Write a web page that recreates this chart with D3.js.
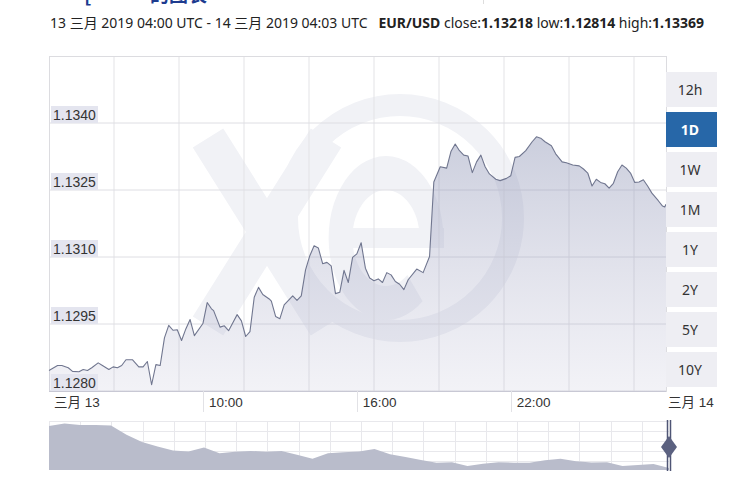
<!DOCTYPE html>
<html>
<head>
<meta charset="utf-8">
<script src="https://cdn.jsdelivr.net/npm/d3@7"></script>
<style>
body { margin: 0; background: #fff; }
svg { display: block; }
</style>
</head>
<body>
<div class="chart"></div>
<script>
var width = 732;
var height = 487;
var plot = {left: 49, right: 666, top: 56, bottom: 391};

// EUR/USD, 13 三月 2019 04:00 UTC -> 14 三月 2019 04:03 UTC
var times = ['04:00','04:20','04:30','04:45','04:55','05:10','05:20','05:30','05:40','05:55',
  '06:05','06:20','06:30','06:40','06:50','07:00','07:15','07:30','07:40','07:50',
  '08:00','08:10','08:20','08:30','08:40','08:50','09:00','09:10','09:20','09:30',
  '09:40','10:00','10:10','10:20','10:25','10:40','10:50','11:00','11:20','11:30',
  '11:40','11:50','12:00','12:10','12:20','12:35','12:40','12:50','13:00','13:10',
  '13:30','13:40','13:50','14:00','14:10','14:20','14:30','14:40','14:50','15:00',
  '15:10','15:20','15:30','15:40','15:50','16:00','16:10','16:20','16:30','16:40',
  '16:50','17:00','17:10','17:20','17:30','17:40','17:50','18:00','18:20','18:35',
  '18:50','19:00','19:15','19:30','19:40','19:50','20:00','20:10','20:20','20:30',
  '20:40','20:50','21:00','21:10','21:25','21:35','21:50','22:00','22:10','22:20',
  '22:35','22:50','23:00','23:10','23:20','23:35','23:45','00:00','00:10','00:25',
  '00:40','00:50','01:00','01:10','01:20','01:30','01:40','01:50','02:00','02:10',
  '02:20','02:30','02:40','02:50','03:00','03:10','03:20','03:30','03:45','03:55',
  '04:00','04:03'];
var prices = [1.12846,1.12857,1.12857,1.12852,1.12844,1.12843,1.12848,1.12846,1.12852,1.12863,
  1.12857,1.12848,1.12854,1.12852,1.12857,1.12870,1.12870,1.12854,1.12854,1.12866,
  1.12814,1.12859,1.12857,1.12919,1.12947,1.12936,1.12937,1.12913,1.12939,1.12960,
  1.12924,1.12951,1.12998,1.12984,1.12980,1.12943,1.12946,1.12935,1.12971,1.12957,
  1.12922,1.12933,1.13010,1.13032,1.13016,1.13006,1.13001,1.12967,1.12962,1.12993,
  1.13013,1.13003,1.13013,1.13071,1.13103,1.13125,1.13120,1.13085,1.13088,1.13080,
  1.13018,1.13021,1.13070,1.13043,1.13099,1.13107,1.13132,1.13075,1.13053,1.13047,
  1.13051,1.13043,1.13065,1.13060,1.13045,1.13039,1.13027,1.13049,1.13073,1.13065,
  1.13101,1.13268,1.13302,1.13299,1.13336,1.13353,1.13338,1.13328,1.13326,1.13289,
  1.13313,1.13328,1.13302,1.13286,1.13274,1.13271,1.13276,1.13282,1.13323,1.13325,
  1.13338,1.13358,1.13369,1.13366,1.13358,1.13349,1.13331,1.13313,1.13311,1.13306,
  1.13304,1.13297,1.13288,1.13259,1.13274,1.13267,1.13264,1.13254,1.13265,1.13291,
  1.13306,1.13299,1.13288,1.13267,1.13268,1.13273,1.13259,1.13243,1.13226,1.13214,
  1.13212,1.13218];

var yTicks = [1.1280, 1.1295, 1.1310, 1.1325, 1.1340];
var xTickTimes = ['10:00', '16:00', '22:00'];
var dateLabels = ['三月 13', '三月 14'];
var ranges = ['12h', '1D', '1W', '1M', '1Y', '2Y', '5Y', '10Y'];
var selectedRange = '1D';

// navigator (overview series, relative level)
var navValues = [45, 47.5, 46, 46, 45.5, 36, 28.5, 24, 20, 19, 23, 17, 18.5, 19.5, 18.5, 19.5,
  15.5, 11.5, 17, 18, 19, 21.5, 16, 13.3, 10.3, 7.5, 8, 4, 6.5, 8, 7.5, 7.5, 10, 11.4, 9,
  7.6, 8, 4, 5, 6, 2];

function parseSeries() {
  var dayOffset = 0, prevMin = -1;
  return times.map(function(t, i) {
    var p = t.split(':');
    var m = +p[0] * 60 + +p[1];
    if (m < prevMin) dayOffset += 1440;
    prevMin = m;
    return {date: new Date(Date.UTC(2019, 2, 13) + (m + dayOffset) * 60000), price: prices[i]};
  });
}
var data = parseSeries();

var svg = d3.select('div.chart').append('svg')
  .attr('width', width)
  .attr('height', height)
  .style('font-family', "'Liberation Sans', Arial, sans-serif");

var x_scale = d3.scaleUtc()
  .domain([new Date(Date.UTC(2019, 2, 13, 4, 0)), new Date(Date.UTC(2019, 2, 14, 4, 3))])
  .range([plot.left, plot.right]);
var y_scale = d3.scaleLinear()
  .domain([1.1280, 1.1355])
  .range([plot.bottom, plot.top]);

// top cut-off title fragment + header
svg.append('text').attr('x', 84).attr('y', 2).attr('fill', '#1d3b8f')
  .style('font-size', '20px').style('font-weight', 'bold')
  .style('font-family', "'Noto Sans CJK SC', sans-serif").text('[');
svg.append('text').attr('x', 150).attr('y', 2).attr('fill', '#1d3b8f')
  .style('font-size', '19px').style('font-weight', 'bold')
  .style('font-family', "'Noto Sans CJK SC', sans-serif").text('的图表');
svg.append('line').attr('x1', 483.5).attr('x2', 483.5).attr('y1', 0).attr('y2', 4)
  .attr('stroke', '#ddd');

var header = svg.append('text')
  .attr('x', 50).attr('y', 28)
  .attr('fill', '#222')
  .style('font-size', '14px')
  .style('font-family', "'Noto Sans', 'Noto Sans CJK SC', sans-serif");
var parts = [
  ['13 三月 2019 04:00 UTC - 14 三月 2019 04:03 UTC   ', false],
  ['EUR/USD', true], [' close:', false], ['1.13218', true],
  [' low:', false], ['1.12814', true], [' high:', false], ['1.13369', true]
];
parts.forEach(function(p) {
  header.append('tspan').attr('font-weight', p[1] ? 'bold' : 'normal')
    .attr('xml:space', 'preserve').text(p[0]);
});
header.attr('xml:space', 'preserve').attr('textLength', 654).attr('lengthAdjust', 'spacingAndGlyphs');

// watermark
var wmColor = '#f1f2f6';
var wm = svg.append('g').attr('class', 'watermark');
wm.append('circle').attr('cx', 400).attr('cy', 218).attr('r', 113)
  .attr('fill', 'none').attr('stroke', wmColor).attr('stroke-width', 22);
wm.append('path').attr('d', 'M208,138 L326,326 M326,138 L208,326')
  .attr('stroke', wmColor).attr('stroke-width', 36).attr('fill', 'none');
wm.append('path')
  .attr('d', d3.arc().innerRadius(48).outerRadius(82).startAngle(Math.PI * 0.78).endAngle(Math.PI * 2.5)())
  .attr('transform', 'translate(386,238) scale(0.7,1)')
  .attr('fill', wmColor);
wm.append('rect').attr('x', 330).attr('y', 228).attr('width', 114).attr('height', 20)
  .attr('fill', wmColor);

// grid
var grid = svg.append('g').attr('class', 'grid');
grid.selectAll('line.v')
  .data(d3.range(plot.left + 65, plot.right, 65))
  .enter().append('line')
  .attr('class', 'v')
  .attr('x1', function(d) { return d; }).attr('x2', function(d) { return d; })
  .attr('y1', plot.top).attr('y2', plot.bottom)
  .attr('stroke', '#e3e3e6');
grid.selectAll('line.h')
  .data(yTicks)
  .enter().append('line')
  .attr('class', 'h')
  .attr('x1', plot.left).attr('x2', plot.right)
  .attr('y1', function(d) { return y_scale(d); }).attr('y2', function(d) { return y_scale(d); })
  .attr('stroke', '#dedee3');
grid.append('rect')
  .attr('x', plot.left + 0.5).attr('y', plot.top + 0.5)
  .attr('width', plot.right - plot.left).attr('height', plot.bottom - plot.top)
  .attr('fill', 'none').attr('stroke', '#dcdce0');

// area + line
var defs = svg.append('defs');
var grad = defs.append('linearGradient').attr('id', 'areaGrad')
  .attr('x1', 0).attr('y1', 0).attr('x2', 0).attr('y2', 1);
grad.append('stop').attr('offset', '0%').attr('stop-color', 'rgb(140,147,180)').attr('stop-opacity', 0.45);
grad.append('stop').attr('offset', '100%').attr('stop-color', 'rgb(170,170,200)').attr('stop-opacity', 0.15);

var area = d3.area()
  .x(function(d) { return x_scale(d.date); })
  .y0(plot.bottom)
  .y1(function(d) { return y_scale(d.price); });
var line = d3.line()
  .x(function(d) { return x_scale(d.date); })
  .y(function(d) { return y_scale(d.price); });

svg.append('path').datum(data).attr('d', area).attr('fill', 'url(#areaGrad)');
svg.append('path').datum(data).attr('d', line)
  .attr('fill', 'none').attr('stroke', '#70768f').attr('stroke-width', 1.1)
  .attr('stroke-linejoin', 'round');

// y labels
var yl = svg.append('g').attr('class', 'y-labels');
yl.selectAll('rect').data(yTicks).enter().append('rect')
  .attr('x', plot.left + 2).attr('y', function(d) { return y_scale(d) - 17; })
  .attr('width', 47).attr('height', 17)
  .attr('fill', '#e4e5ef');
yl.selectAll('text').data(yTicks).enter().append('text')
  .attr('x', plot.left + 4).attr('y', function(d) { return y_scale(d) - 3.5; })
  .attr('fill', '#333').style('font-size', '14px')
  .text(function(d) { return d.toFixed(4); });

// x axis
var xa = svg.append('g').attr('class', 'x-axis');
xa.append('line').attr('x1', plot.left).attr('x2', plot.right)
  .attr('y1', plot.bottom + 0.5).attr('y2', plot.bottom + 0.5)
  .attr('stroke', '#c8c8d4');
var tickDates = xTickTimes.map(function(t) {
  var p = t.split(':');
  return new Date(Date.UTC(2019, 2, 13, +p[0], +p[1]));
});
xa.selectAll('line.sep').data(tickDates).enter().append('line')
  .attr('class', 'sep')
  .attr('x1', function(d) { return Math.round(x_scale(d)) + 0.5; })
  .attr('x2', function(d) { return Math.round(x_scale(d)) + 0.5; })
  .attr('y1', plot.bottom).attr('y2', plot.bottom + 21)
  .attr('stroke', '#e2e2e6');
xa.selectAll('text.t').data(tickDates).enter().append('text')
  .attr('class', 't')
  .attr('x', function(d) { return x_scale(d) + 6; })
  .attr('y', plot.bottom + 16)
  .attr('fill', '#333').style('font-size', '13.5px')
  .text(function(d) { return d3.utcFormat('%H:%M')(d); });
xa.selectAll('text.d').data(dateLabels).enter().append('text')
  .attr('class', 'd')
  .attr('x', function(d, i) { return i === 0 ? plot.left + 5 : plot.right + 2; })
  .attr('y', plot.bottom + 16)
  .attr('fill', '#333').style('font-size', '13.5px')
  .style('font-family', "'Liberation Sans', 'Noto Sans CJK SC', sans-serif")
  .text(function(d) { return d; });

// range buttons
var btn = svg.append('g').attr('class', 'ranges');
var b = btn.selectAll('g').data(ranges).enter().append('g')
  .attr('transform', function(d, i) { return 'translate(' + plot.right + ',' + (72 + i * 40) + ')'; });
b.append('rect').attr('width', 51).attr('height', 35)
  .attr('fill', function(d) { return d == selectedRange ? '#2767a8' : '#eeeef3'; });
b.append('text').attr('x', 24).attr('y', 22.5)
  .attr('text-anchor', 'middle')
  .style('font-family', "'Noto Sans', sans-serif").style('font-size', '14px')
  .attr('font-weight', function(d) { return d == selectedRange ? 'bold' : 'normal'; })
  .attr('fill', function(d) { return d == selectedRange ? '#fff' : '#333'; })
  .text(function(d) { return d; });

// navigator
var nav = {top: 421, bottom: 470};
var nav_x = d3.scaleLinear().domain([0, navValues.length - 1]).range([plot.left, 669]);
var nav_y = d3.scaleLinear().domain([0, 50]).range([nav.bottom, nav.top]);
var ng = svg.append('g').attr('class', 'navigator');
ng.selectAll('line.v').data(d3.range(plot.left, 669, 31.2)).enter().append('line')
  .attr('class', 'v')
  .attr('x1', function(d) { return Math.round(d) + 0.5; }).attr('x2', function(d) { return Math.round(d) + 0.5; })
  .attr('y1', nav.top).attr('y2', nav.bottom)
  .attr('stroke', '#e8e8ec');
ng.selectAll('line.h').data(d3.range(nav.top, nav.bottom, 10)).enter().append('line')
  .attr('class', 'h')
  .attr('x1', plot.left).attr('x2', 669)
  .attr('y1', function(d) { return d + 0.5; }).attr('y2', function(d) { return d + 0.5; })
  .attr('stroke', '#e8e8ec');
ng.append('path').datum(navValues)
  .attr('d', d3.area()
    .x(function(d, i) { return nav_x(i); })
    .y0(nav.bottom)
    .y1(function(d) { return nav_y(d); }))
  .attr('fill', '#b9bccb');
ng.append('line').attr('x1', 667.5).attr('x2', 667.5).attr('y1', nav.top - 1).attr('y2', nav.bottom + 1)
  .attr('stroke', '#4f5575').attr('stroke-width', 1.5);
ng.append('line').attr('x1', 670.5).attr('x2', 670.5).attr('y1', nav.top - 1).attr('y2', nav.bottom + 1)
  .attr('stroke', '#4f5575').attr('stroke-width', 1.5);
ng.append('path').attr('d', 'M669,436 L677,447 L669,458 L661,447 Z')
  .attr('fill', '#5b6180');
</script>
</body>
</html>
